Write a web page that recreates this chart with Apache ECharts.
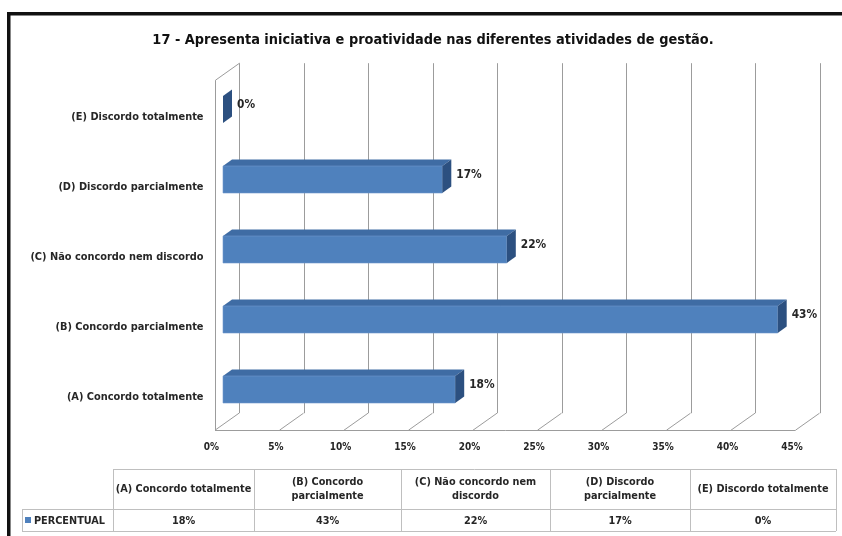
<!DOCTYPE html>
<html>
<head>
<meta charset="utf-8">
<style>
  html, body { margin: 0; padding: 0; background: #fff; }
  #chart { width: 842px; height: 536px; }
</style>
<script src="https://cdn.jsdelivr.net/npm/echarts@6/dist/echarts.min.js"></script>
</head>
<body>
<div id="chart"></div>
<script>
// ---- data ----
const titleText = '17 - Apresenta iniciativa e proatividade nas diferentes atividades de gestão.';
const categories = ['(A) Concordo totalmente', '(B) Concordo parcialmente', '(C) Não concordo nem discordo', '(D) Discordo parcialmente', '(E) Discordo totalmente'];
const values = [18, 43, 22, 17, 0];
const tickValues = [0, 5, 10, 15, 20, 25, 30, 35, 40, 45];
const tableHeaders = ['(A) Concordo totalmente', '(B) Concordo\nparcialmente', '(C) Não concordo nem\ndiscordo', '(D) Discordo\nparcialmente', '(E) Discordo totalmente'];
const seriesName = 'PERCENTUAL';

// ---- styles ----
const FONT = "'Liberation Sans Narrow', 'DejaVu Sans Condensed', 'Open Sans', sans-serif";
const TXT = '#262626';
const GRIDC = '#9c9c9c';
const FRONT = '#4f81bd', TOP = '#3f6ca4', SIDE = '#2c5080';
const XMAX = 45;
const F = [-8, 5.7];   // offset of floor front from bar plane
const B = [16, -11.3]; // offset of back wall from bar plane
const BD = [9, -6.5];  // bar depth

const chart = echarts.init(document.getElementById('chart'), null, { renderer: 'canvas' });

function px(v) { return Math.round(v) + 0.5; }

function renderWalls(params, api) {
  const cs = params.coordSys;
  const v = api.value(0);
  const x = api.coord([v, 0])[0];
  const yb = cs.y + cs.height, yt = cs.y;
  const style = { stroke: GRIDC, lineWidth: 1, fill: null };
  const children = [
    { type: 'line', shape: { x1: px(x + B[0]), y1: yb + B[1], x2: px(x + B[0]), y2: yt + B[1] }, style },
    { type: 'line', shape: { x1: x + F[0], y1: yb + F[1], x2: x + B[0], y2: yb + B[1] }, style }
  ];
  if (params.dataIndex === 0) {
    const xEnd = api.coord([XMAX, 0])[0];
    children.push({ type: 'line', shape: { x1: px(x + F[0]), y1: yb + F[1], x2: px(x + F[0]), y2: yt + F[1] }, style });
    children.push({ type: 'line', shape: { x1: px(x + F[0]), y1: yt + F[1], x2: px(x + B[0]), y2: yt + B[1] }, style });
    children.push({ type: 'line', shape: { x1: x + F[0], y1: px(yb + F[1]), x2: xEnd + F[0], y2: px(yb + F[1]) }, style });
  }
  return { type: 'group', children };
}

function renderBar(params, api) {
  const v = api.value(0), c = api.value(1);
  const p0 = api.coord([0, c]), p1 = api.coord([v, c]);
  const band = api.size([0, 1])[1];
  const h = band * 27 / 70;
  const yt = p0[1] - h / 2, yb = p0[1] + h / 2;
  const x0 = p0[0], x1 = p1[0];
  const children = [];
  if (x1 > x0) {
    children.push({ type: 'polygon', shape: { points: [[x0, yt], [x1, yt], [x1 + BD[0], yt + BD[1]], [x0 + BD[0], yt + BD[1]]] }, style: { fill: TOP } });
    children.push({ type: 'rect', shape: { x: x0, y: yt, width: x1 - x0, height: h }, style: { fill: FRONT, stroke: '#6f98cc', lineWidth: 0.6 } });
  }
  children.push({ type: 'polygon', shape: { points: [[x1, yt], [x1, yb], [x1 + BD[0], yb + BD[1]], [x1 + BD[0], yt + BD[1]]] }, style: { fill: SIDE } });
  children.push({ type: 'text', x: x1 + BD[0] + 5, y: p0[1] - 5, style: { text: v + '%', fill: TXT, font: 'bold 11.8px ' + FONT, align: 'left', verticalAlign: 'middle' } });
  return { type: 'group', children };
}

// ---- table (graphic) ----
const colX = [22, 113, 254, 401, 550, 690, 836];
const rowY = [469, 509, 531];
const tbl = [];
const lineStyle = { stroke: '#bfbfbf', lineWidth: 1 };
tbl.push({ type: 'line', shape: { x1: colX[1], y1: rowY[0] + 0.5, x2: colX[6], y2: rowY[0] + 0.5 }, style: lineStyle });
tbl.push({ type: 'line', shape: { x1: colX[0], y1: rowY[1] + 0.5, x2: colX[6], y2: rowY[1] + 0.5 }, style: lineStyle });
tbl.push({ type: 'line', shape: { x1: colX[0], y1: rowY[2] + 0.5, x2: colX[6], y2: rowY[2] + 0.5 }, style: lineStyle });
tbl.push({ type: 'line', shape: { x1: colX[0] + 0.5, y1: rowY[1], x2: colX[0] + 0.5, y2: rowY[2] }, style: lineStyle });
for (let i = 1; i < colX.length; i++) {
  tbl.push({ type: 'line', shape: { x1: colX[i] + 0.5, y1: rowY[0], x2: colX[i] + 0.5, y2: rowY[2] }, style: lineStyle });
}
tableHeaders.forEach((t, i) => {
  tbl.push({ type: 'text', x: (colX[i + 1] + colX[i + 2]) / 2, y: (rowY[0] + rowY[1]) / 2, style: { text: t, fill: TXT, font: 'bold 10.8px ' + FONT, align: 'center', verticalAlign: 'middle', lineHeight: 14 } });
});
values.forEach((v, i) => {
  tbl.push({ type: 'text', x: (colX[i + 1] + colX[i + 2]) / 2, y: (rowY[1] + rowY[2]) / 2 + 1, style: { text: v + '%', fill: TXT, font: 'bold 10.8px ' + FONT, align: 'center', verticalAlign: 'middle' } });
});
tbl.push({ type: 'rect', shape: { x: 25, y: 517, width: 6, height: 6 }, style: { fill: FRONT } });
tbl.push({ type: 'text', x: 34, y: 521, style: { text: seriesName, fill: TXT, font: 'bold 10.8px ' + FONT, align: 'left', verticalAlign: 'middle' } });

// frame
tbl.push({ type: 'rect', shape: { x: 8.75, y: 13.75, width: 900, height: 600 }, style: { fill: null, stroke: '#111', lineWidth: 3.5 } });

const option = {
  animation: false,
  backgroundColor: '#fff',
  title: {
    text: titleText, left: 428, top: 28, textAlign: 'center',
    textStyle: { fontFamily: FONT, fontWeight: 'bold', fontSize: 14.4, color: '#111' }
  },
  grid: [
    { left: 223, top: 74.5, width: 580.5, height: 350 },
    { left: 211.5, top: 82.5, width: 580.5, height: 350 }
  ],
  xAxis: [
    { type: 'value', gridIndex: 0, min: 0, max: XMAX, interval: 5, show: false },
    { type: 'value', gridIndex: 1, min: 0, max: XMAX, interval: 5,
      axisLine: { show: false }, axisTick: { show: false }, splitLine: { show: false },
      axisLabel: { formatter: '{value}%', margin: 10, color: TXT, fontFamily: FONT, fontWeight: 'bold', fontSize: 10 } }
  ],
  yAxis: [
    { type: 'category', gridIndex: 0, data: categories, show: false },
    { type: 'category', gridIndex: 1, data: categories,
      axisLine: { show: false }, axisTick: { show: false }, splitLine: { show: false },
      axisLabel: { margin: 8, color: TXT, fontFamily: FONT, fontWeight: 'bold', fontSize: 10.9 } }
  ],
  graphic: tbl,
  series: [
    { type: 'custom', name: 'walls', xAxisIndex: 0, yAxisIndex: 0, silent: true, z: 1,
      encode: { x: 0, y: 1 }, data: tickValues.map(v => [v, 0]), renderItem: renderWalls },
    { type: 'custom', name: seriesName, xAxisIndex: 0, yAxisIndex: 0, z: 3,
      encode: { x: 0, y: 1 }, data: values.map((v, i) => [v, i]), renderItem: renderBar }
  ]
};
chart.setOption(option);
</script>
</body>
</html>
